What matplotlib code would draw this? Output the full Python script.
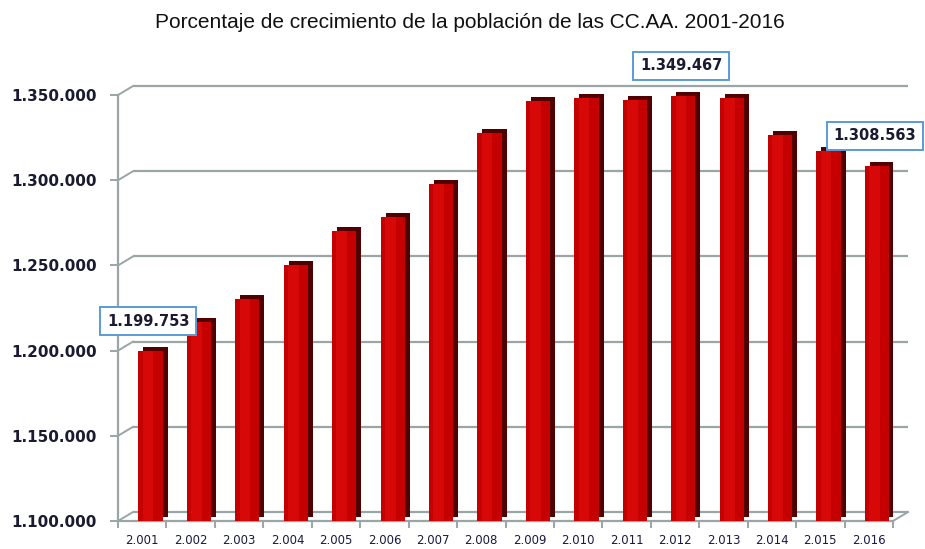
import matplotlib
matplotlib.use("Agg")
import matplotlib.pyplot as plt
from matplotlib.transforms import ScaledTranslation

years = ["2.001", "2.002", "2.003", "2.004", "2.005", "2.006", "2.007", "2.008",
         "2.009", "2.010", "2.011", "2.012", "2.013", "2.014", "2.015", "2.016"]
values = [1199753, 1217000, 1230500, 1250500, 1270000, 1278500, 1297500, 1328000,
          1346500, 1348000, 1347000, 1349467, 1348000, 1326500, 1317000, 1308563]
yticks = [1100000, 1150000, 1200000, 1250000, 1300000, 1350000]
ytick_labels = ["1.100.000", "1.150.000", "1.200.000", "1.250.000", "1.300.000", "1.350.000"]
labelled = {0: "1.199.753", 11: "1.349.467", 15: "1.308.563"}
title = "Porcentaje de crecimiento de la población de las CC.AA. 2001-2016"

fig = plt.figure(figsize=(9.25, 5.49), dpi=100)
ax = fig.add_axes([118/925, 28/549, (893-118)/925, (521-78)/549])
ymin, ymax = 1100000, 1360000
ax.set_xlim(-0.5, len(years) - 0.5)
ax.set_ylim(ymin, ymax)

grid_c = "#9aa5a5"
dx, dy = 15, 9  # depth offset in pixels
back = ax.transData + ScaledTranslation(dx/100, dy/100, fig.dpi_scale_trans)

# back-wall gridlines
ax.hlines(yticks, -0.5, len(years) - 0.5, colors=grid_c, lw=1.6, transform=back,
          clip_on=False, zorder=1)
# connectors from front axis to back wall
x0 = -0.5
ppx = (893-118) / len(years)
ppy = 443 / (ymax - ymin)
for v in yticks:
    ax.plot([x0, x0 + dx/ppx], [v, v + dy/ppy], color=grid_c, lw=1.4, clip_on=False, zorder=1)
xe = len(years) - 0.5
ax.plot([xe, xe + dx/ppx], [ymin, ymin + dy/ppy], color=grid_c, lw=1.4, clip_on=False, zorder=1)

# bars with pseudo 3D depth
xs = list(range(len(years)))
heights = [v - ymin for v in values]
side = ax.transData + ScaledTranslation(5/100, 4/100, fig.dpi_scale_trans)
ax.bar([x + 0.17 for x in xs], heights, bottom=ymin, width=0.5,
       color="#500000", transform=side, zorder=2)
ax.bar([x + 0.17 for x in xs], heights, bottom=ymin, width=0.5,
       color="#c40000", zorder=3)
ax.bar([x + 0.12 for x in xs], heights, bottom=ymin, width=0.22,
       color="#d60808", zorder=3)

# axes styling
for s in ["top", "right"]:
    ax.spines[s].set_visible(False)
ax.spines["left"].set_color(grid_c)
ax.spines["left"].set_linewidth(1.6)
ax.spines["left"].set_bounds(ymin, 1350000)
ax.spines["bottom"].set_color(grid_c)
ax.spines["bottom"].set_linewidth(1.6)

ax.set_yticks(yticks)
ax.set_yticklabels(ytick_labels, fontsize=11, fontweight="bold", color="#1a1a30")
ax.tick_params(axis="y", length=6, width=1.4, color=grid_c, pad=9)

ax.set_xticks(xs)
ax.set_xticklabels(years, fontsize=8.5, color="#1a1a40")
ax.tick_params(axis="x", length=0, pad=9)
ax.set_xticks([x - 0.5 for x in range(len(years) + 1)], minor=True)
ax.tick_params(axis="x", which="minor", length=5, width=1.4, color=grid_c)

# data labels
for i, txt in labelled.items():
    ax.annotate(txt, xy=(i, values[i]), xytext=(6, 30), textcoords="offset pixels",
                ha="center", va="center", fontsize=10.5, fontweight="bold", color="#1a1a30",
                bbox=dict(boxstyle="square,pad=0.45", fc="white", ec="#5b9bd5", lw=1.4),
                zorder=6, annotation_clip=False)

fig.text(470/925, 1 - 22/549, title, ha="center", va="center", fontsize=15,
         family="Liberation Sans", color="#111111")

fig.savefig("out.png", dpi=100, facecolor="white")
